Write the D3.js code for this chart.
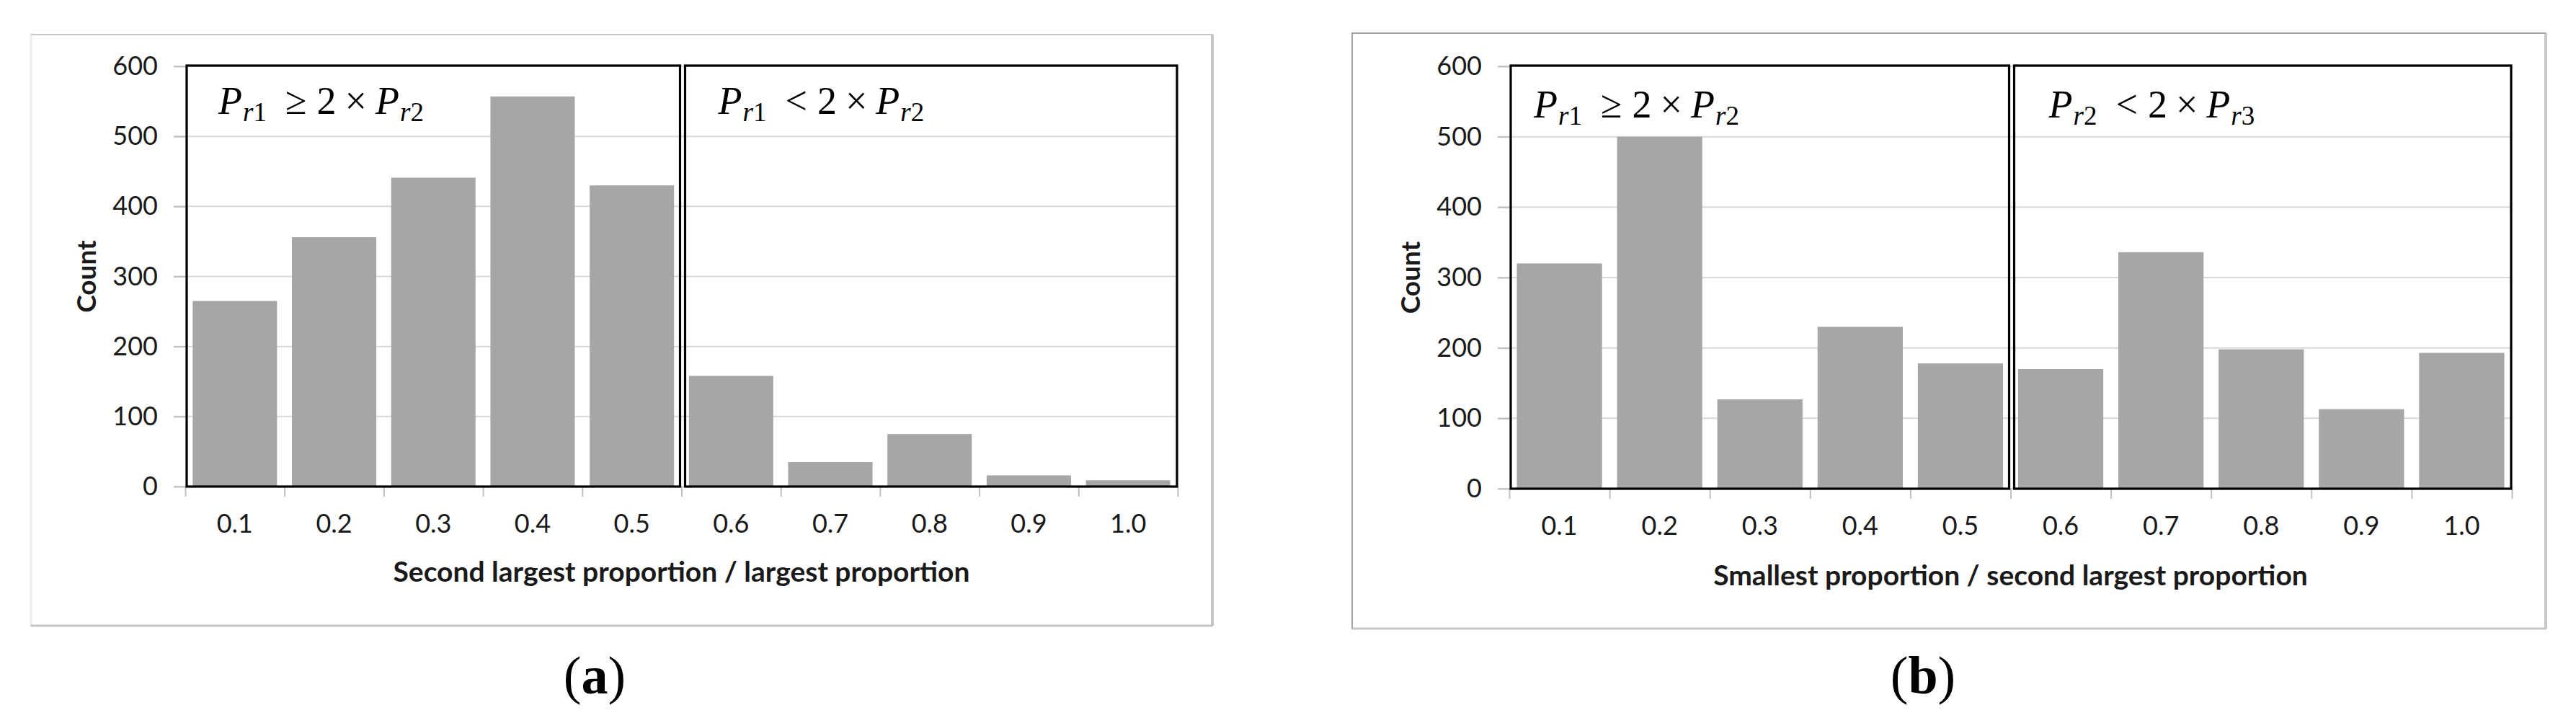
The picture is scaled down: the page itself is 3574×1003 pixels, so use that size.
<!DOCTYPE html>
<html>
<head>
<meta charset="utf-8">
<script src="https://cdn.jsdelivr.net/npm/d3@7"></script>
<style>
  body { margin: 0; background: #fff; }
  svg { display: block; }
  .tick text { font-family: Lato, "Open Sans", sans-serif; }
</style>
</head>
<body>
<svg id="graph"></svg>
<script>
// categories on the x axis (ratio bins)
var categories = ["0.1", "0.2", "0.3", "0.4", "0.5", "0.6", "0.7", "0.8", "0.9", "1.0"];
// counts (a) and panel (b)
var countsA = [265, 356, 441, 557, 430, 158, 35, 75, 16, 9];
var countsB = [320, 500, 127, 230, 178, 170, 336, 198, 113, 193];
var yTicks = [0, 100, 200, 300, 400, 500, 600];
var xTitles = ["Second largest proportion / largest proportion", "Smallest proportion / second largest proportion"];
var panelTags = ["a", "b"];
// condition notes: [subscript left, operator, subscript right]
var notesA = [["1", "\u2265", "2"], ["1", "<", "2"]];
var notesB = [["1", "\u2265", "2"], ["2", "<", "3"]];

var screen = { width: 3574, height: 1003 };

var svg = d3.select("#graph")
  .attr("width", screen.width)
  .attr("height", screen.height);

var drawPanel = function(p)
{
  var g = svg.append("g");

  // outer frame of the chart picture
  g.append("rect")
    .attr("x", p.frame[0]).attr("y", p.frame[1])
    .attr("width", p.frame[2] - p.frame[0]).attr("height", p.frame[3] - p.frame[1])
    .attr("fill", "#fff").attr("stroke", p.frameColor).attr("stroke-width", 2);
  if (p.frameLeft) {
    g.append("line")
      .attr("x1", p.frame[0]).attr("x2", p.frame[0])
      .attr("y1", p.frame[1]).attr("y2", p.frame[3])
      .attr("stroke", p.frameLeft).attr("stroke-width", 3);
  }
  g.append("line")
    .attr("x1", p.frame[0]).attr("x2", p.frame[2])
    .attr("y1", p.frame[3]).attr("y2", p.frame[3])
    .attr("stroke", p.frameSide).attr("stroke-width", 3);
  g.append("line")
    .attr("x1", p.frame[2]).attr("x2", p.frame[2])
    .attr("y1", p.frame[1]).attr("y2", p.frame[3])
    .attr("stroke", p.frameSide).attr("stroke-width", 4);

  var xScale = d3.scaleBand()
    .domain(categories)
    .range([p.x0, p.x1])
    .paddingInner(0.15)
    .paddingOuter(0.075);

  var edge = d3.scaleLinear()
    .domain([0, categories.length])
    .range([p.x0, p.x1]);

  var yScale = d3.scaleLinear()
    .domain([0, 600])
    .range([p.y0, p.y1]);

  // gridlines
  g.append("g")
    .selectAll("line")
    .data(yTicks)
    .enter()
    .append("line")
    .attr("x1", p.x0 - 16)
    .attr("x2", p.x1)
    .attr("y1", function(d) { return yScale(d); })
    .attr("y2", function(d) { return yScale(d); })
    .attr("stroke", "#d9d9d9")
    .attr("stroke-width", 2);

  // y axis labels
  var yAxis = g.append("g")
    .attr("transform", "translate(" + p.x0 + ",0)")
    .call(d3.axisLeft(yScale).tickValues(yTicks).tickSize(16).tickPadding(22));
  yAxis.select(".domain").remove();
  yAxis.selectAll(".tick line").attr("stroke", "#bfbfbf").attr("stroke-width", 2);
  yAxis.selectAll(".tick text")
    .attr("font-size", 36).attr("fill", "#1a1a1a");

  // bars
  g.append("g")
    .selectAll("rect")
    .data(p.counts)
    .enter()
    .append("rect")
    .attr("x", function(d, i) { return xScale(categories[i]); })
    .attr("width", xScale.bandwidth())
    .attr("y", function(d) { return yScale(d); })
    .attr("height", function(d) { return yScale(0) - yScale(d); })
    .attr("fill", "#a6a6a6");

  // x axis: ticks at bin edges, labels at bin centres
  var xEdges = g.append("g")
    .attr("transform", "translate(0," + p.y0 + ")")
    .call(d3.axisBottom(edge).tickValues(d3.range(categories.length + 1)).tickSize(14).tickFormat(""));
  xEdges.select(".domain").remove();
  xEdges.selectAll(".tick line").attr("stroke", "#bfbfbf").attr("stroke-width", 2);

  var xLabels = g.append("g")
    .attr("transform", "translate(0," + p.y0 + ")")
    .call(d3.axisBottom(xScale).tickSize(0).tickPadding(38));
  xLabels.select(".domain").remove();
  xLabels.selectAll(".tick text")
    .attr("font-size", 36).attr("fill", "#1a1a1a");

  // two black boxes splitting the bins
  var mid = edge(5);
  var boxes = [[p.x0 + 2, mid - 2], [mid + 5, p.x1 - 1]];
  g.append("g")
    .selectAll("rect")
    .data(boxes)
    .enter()
    .append("rect")
    .attr("x", function(d) { return d[0]; })
    .attr("width", function(d) { return d[1] - d[0]; })
    .attr("y", yScale(600) - 1)
    .attr("height", yScale(0) - yScale(600) + 1)
    .attr("fill", "none")
    .attr("stroke", "#000")
    .attr("stroke-width", 3.2);

  // condition notes
  var note = g.append("g")
    .selectAll("text")
    .data(p.notes)
    .enter()
    .append("text")
    .attr("x", function(d, i) { return boxes[i][0] + p.noteDx[i]; })
    .attr("y", p.noteY)
    .attr("font-family", "'Liberation Serif', 'DejaVu Serif', serif")
    .attr("font-size", 54)
    .attr("fill", "#000");
  note.each(function(d)
  {
    var t = d3.select(this);
    t.append("tspan").attr("font-style", "italic").text("P");
    t.append("tspan").attr("font-style", "italic").attr("font-size", 37).attr("dy", 10).attr("dx", 1).text("r");
    t.append("tspan").attr("font-size", 37).text(d[0]);
    t.append("tspan").attr("dy", -10).attr("dx", 26).text(d[1]);
    t.append("tspan").attr("dx", 14).text("2");
    t.append("tspan").attr("dx", 12).text("\u00d7");
    t.append("tspan").attr("dx", 12).attr("font-style", "italic").text("P");
    t.append("tspan").attr("font-style", "italic").attr("font-size", 37).attr("dy", 10).attr("dx", 1).text("r");
    t.append("tspan").attr("font-size", 37).text(d[2]);
  });

  // axis titles
  g.append("text")
    .attr("transform", "translate(" + (p.x0 - 137) + "," + yScale(300) + ") rotate(-90)")
    .attr("text-anchor", "middle")
    .attr("dy", "0.35em")
    .attr("font-family", "Lato, sans-serif")
    .attr("font-weight", "bold")
    .attr("font-size", 37)
    .attr("fill", "#1a1a1a")
    .text("Count");

  g.append("text")
    .attr("x", (p.x0 + p.x1) / 2)
    .attr("y", p.titleY)
    .attr("text-anchor", "middle")
    .attr("dy", "0.35em")
    .attr("font-family", "Lato, sans-serif")
    .attr("font-weight", "bold")
    .attr("font-size", 39)
    .attr("fill", "#1a1a1a")
    .text(p.title);

  // panel tag (a) / (b)
  var tag = g.append("text")
    .attr("x", p.tagX)
    .attr("y", 962)
    .attr("text-anchor", "middle")
    .attr("font-family", "'Liberation Serif', serif")
    .attr("font-size", 74)
    .attr("fill", "#000");
  tag.append("tspan").text("(");
  tag.append("tspan").attr("font-weight", "bold").text(p.tag);
  tag.append("tspan").text(")");
}

drawPanel({
  counts: countsA, notes: notesA, title: xTitles[0], tag: panelTags[0],
  frame: [43, 48, 1682, 868], frameColor: "#c8c8c8", frameLeft: "#ececec", frameSide: "#c4c4c4",
  x0: 257, x1: 1634, y0: 675, y1: 92,
  noteDx: [44, 46], noteY: 158, titleY: 793, tagX: 825
});

drawPanel({
  counts: countsB, notes: notesB, title: xTitles[1], tag: panelTags[1],
  frame: [1876, 46, 3532, 872], frameColor: "#a6a6a6", frameLeft: null, frameSide: "#c8c8c8",
  x0: 2094, x1: 3485, y0: 678, y1: 92,
  noteDx: [32, 48], noteY: 163, titleY: 798, tagX: 2668
});
</script>
</body>
</html>
